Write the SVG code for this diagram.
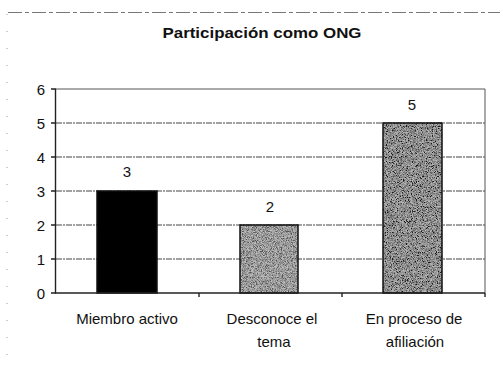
<svg xmlns="http://www.w3.org/2000/svg" width="503" height="367" viewBox="0 0 503 367">
<style>
text{font-family:"Liberation Sans",Arial,sans-serif;fill:#111}
.t{font-size:14px;font-weight:bold}
.y{font-size:15px;text-anchor:end}
.v{font-size:15px;text-anchor:middle}
.c{font-size:15px;text-anchor:middle}
.grid{stroke:#444;stroke-width:1;stroke-dasharray:6 1 2 1;fill:none}
.frame{stroke:#555;stroke-width:1;fill:none}
.axis{stroke:#222;stroke-width:1.4;fill:none}
.bar{stroke:#111;stroke-width:1.5}
</style>
<defs>
<filter id="grain" x="0" y="0" width="1" height="1">
<feTurbulence type="fractalNoise" baseFrequency="1.2" numOctaves="2" seed="5" result="n"/>
<feColorMatrix in="n" type="matrix" values="2.4 0 0 0 -0.7  2.4 0 0 0 -0.7  2.4 0 0 0 -0.7  0 0 0 0 1" result="g"/>
<feComposite in="SourceGraphic" in2="g" operator="arithmetic" k1="0" k2="0.6" k3="0.4" k4="-0.1" result="m"/>
<feComposite in="m" in2="SourceGraphic" operator="in"/>
</filter>
</defs>
<rect width="503" height="367" fill="#fff"/>
<g id="outer-frame">
<line x1="8" y1="12.5" x2="500" y2="12.5" stroke="#777" stroke-width="1" stroke-dasharray="14 3 4 3"/>
<line x1="7" y1="14" x2="7" y2="362" stroke="#999" stroke-width="1" stroke-dasharray="1 16"/>
</g>
<g id="title">
<text class="t" x="262" y="38" text-anchor="middle" textLength="199" lengthAdjust="spacingAndGlyphs">Participación como ONG</text>
</g>
<g id="gridlines">
<line class="grid" x1="56" y1="123" x2="485" y2="123"/>
<line class="grid" x1="56" y1="157" x2="485" y2="157"/>
<line class="grid" x1="56" y1="191" x2="485" y2="191"/>
<line class="grid" x1="56" y1="225" x2="485" y2="225"/>
<line class="grid" x1="56" y1="259" x2="485" y2="259"/>
</g>
<g id="plot-frame">
<line class="frame" x1="56" y1="89" x2="485" y2="89"/>
<line class="frame" x1="485" y1="89" x2="485" y2="293"/>
</g>
<g id="bars">
<rect id="bar-miembro" class="bar" x="97" y="191" width="60" height="102" fill="#000"/>
<rect id="bar-desconoce" x="240" y="225" width="58" height="68" fill="#888" filter="url(#grain)"/>
<rect class="bar" x="240" y="225" width="58" height="68" fill="none"/>
<rect id="bar-proceso" x="383" y="123" width="59" height="170" fill="#717171" filter="url(#grain)"/>
<rect class="bar" x="383" y="123" width="59" height="170" fill="none"/>
</g>
<g id="axes">
<line class="axis" x1="55.5" y1="89" x2="55.5" y2="293"/>
<line class="axis" x1="55" y1="293" x2="485" y2="293"/>
<path class="axis" d="M51 89H56M51 123H56M51 157H56M51 191H56M51 225H56M51 259H56M51 293H56M199 293V297M342 293V297M485 293V297"/>
</g>
<g id="y-labels">
<text class="y" x="45" y="94.5">6</text>
<text class="y" x="45" y="128.5">5</text>
<text class="y" x="45" y="162.5">4</text>
<text class="y" x="45" y="196.5">3</text>
<text class="y" x="45" y="230.5">2</text>
<text class="y" x="45" y="264.5">1</text>
<text class="y" x="45" y="298.5">0</text>
</g>
<g id="value-labels">
<text class="v" x="127" y="177">3</text>
<text class="v" x="270" y="212">2</text>
<text class="v" x="412" y="110">5</text>
</g>
<g id="category-labels">
<text class="c" x="127" y="324">Miembro activo</text>
<text class="c" x="272" y="324">Desconoce el</text>
<text class="c" x="274" y="347">tema</text>
<text class="c" x="414" y="324">En proceso de</text>
<text class="c" x="415" y="347">afiliación</text>
</g>
</svg>
